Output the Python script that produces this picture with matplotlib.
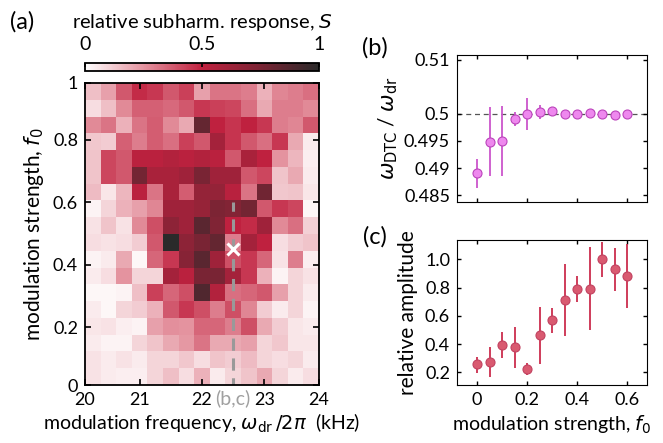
import numpy as np
import matplotlib
matplotlib.use('Agg')
import matplotlib.pyplot as plt
from matplotlib.colors import LinearSegmentedColormap

plt.rcParams['font.family'] = ['Lato', 'DejaVu Sans']
plt.rcParams['mathtext.fontset'] = 'dejavusans'
plt.rcParams['font.size'] = 13

# --- data -------------------------------------------------------------------
# heatmap grid: drive frequency (kHz) and modulation strength f0
freqs = [20.25, 20.5, 20.75, 21.0, 21.25, 21.5, 21.75, 22.0,
         22.25, 22.5, 22.75, 23.0, 23.25, 23.5, 23.75]
f0_rows = [0.955, 0.901, 0.848, 0.794, 0.740, 0.687, 0.633, 0.579, 0.526,
           0.472, 0.418, 0.364, 0.311, 0.257, 0.203, 0.150, 0.096, 0.042]
# relative subharmonic response S, rows from top (high f0) to bottom
S = [
    [0.15, 0.22, 0.38, 0.48, 0.45, 0.38, 0.43, 0.22, 0.32, 0.32, 0.30, 0.18, 0.28, 0.30, 0.33],
    [0.08, 0.15, 0.27, 0.36, 0.36, 0.34, 0.38, 0.45, 0.43, 0.42, 0.33, 0.20, 0.30, 0.30, 0.27],
    [0.27, 0.32, 0.18, 0.32, 0.37, 0.27, 0.20, 0.82, 0.50, 0.46, 0.50, 0.45, 0.30, 0.28, 0.38],
    [0.13, 0.12, 0.36, 0.30, 0.37, 0.33, 0.43, 0.38, 0.60, 0.46, 0.38, 0.33, 0.45, 0.20, 0.05],
    [0.14, 0.42, 0.38, 0.52, 0.52, 0.55, 0.52, 0.55, 0.52, 0.38, 0.58, 0.50, 0.25, 0.17, 0.04],
    [0.14, 0.42, 0.38, 0.77, 0.58, 0.58, 0.62, 0.75, 0.62, 0.62, 0.38, 0.42, 0.14, 0.20, 0.05],
    [0.16, 0.06, 0.17, 0.52, 0.32, 0.58, 0.37, 0.66, 0.66, 0.53, 0.32, 0.78, 0.13, 0.14, 0.06],
    [0.03, 0.10, 0.18, 0.22, 0.28, 0.62, 0.62, 0.65, 0.74, 0.72, 0.77, 0.38, 0.45, 0.42, 0.02],
    [0.07, 0.14, 0.07, 0.27, 0.40, 0.68, 0.62, 0.85, 0.73, 0.50, 0.48, 0.62, 0.27, 0.33, 0.11],
    [0.08, 0.07, 0.08, 0.12, 0.38, 1.00, 0.68, 0.75, 0.82, 0.30, 0.60, 0.50, 0.08, 0.12, 0.14],
    [0.03, 0.05, 0.20, 0.02, 0.35, 0.45, 0.70, 0.85, 0.62, 0.40, 0.45, 0.35, 0.07, 0.30, 0.04],
    [0.05, 0.08, 0.25, 0.10, 0.10, 0.60, 0.52, 0.75, 0.75, 0.60, 0.45, 0.18, 0.03, 0.10, 0.07],
    [0.02, 0.02, 0.03, 0.15, 0.43, 0.35, 0.40, 0.88, 0.55, 0.33, 0.35, 0.38, 0.22, 0.10, 0.05],
    [0.05, 0.02, 0.10, 0.12, 0.18, 0.38, 0.45, 0.40, 0.30, 0.40, 0.28, 0.12, 0.05, 0.10, 0.03],
    [0.06, 0.07, 0.04, 0.03, 0.22, 0.26, 0.25, 0.35, 0.35, 0.30, 0.40, 0.20, 0.12, 0.06, 0.05],
    [0.05, 0.03, 0.03, 0.10, 0.14, 0.20, 0.24, 0.32, 0.20, 0.20, 0.22, 0.10, 0.13, 0.06, 0.06],
    [0.07, 0.05, 0.07, 0.05, 0.10, 0.10, 0.13, 0.08, 0.14, 0.12, 0.16, 0.10, 0.08, 0.10, 0.05],
    [0.07, 0.05, 0.04, 0.04, 0.10, 0.15, 0.08, 0.18, 0.05, 0.10, 0.14, 0.20, 0.10, 0.05, 0.08],
]

# cut position for (b,c)
cut_freq = 22.5
cut_f0_max = 0.6
marker_f0 = 0.45

# panel (b): frequency ratio vs modulation strength
f0_b = [0, 0.05, 0.1, 0.15, 0.2, 0.25, 0.3, 0.35, 0.4, 0.45, 0.5, 0.55, 0.6]
ratio = [0.4890, 0.4949, 0.4950, 0.4990, 0.5000, 0.50035, 0.50045,
         0.5000, 0.5000, 0.50010, 0.50005, 0.49975, 0.50005]
ratio_err = [0.0026, 0.0064, 0.0064, 0.0013, 0.0030, 0.0013, 0.0009,
             0.0002, 0.0002, 0.0002, 0.0002, 0.0002, 0.0002]

# panel (c): relative amplitude vs modulation strength
amp = [0.256, 0.273, 0.395, 0.376, 0.224, 0.464, 0.569,
       0.713, 0.793, 0.793, 1.002, 0.929, 0.885]
amp_hi = [0.308, 0.379, 0.485, 0.520, 0.266, 0.661, 0.654,
          0.965, 0.882, 1.085, 1.125, 1.082, 1.108]
amp_lo = [0.195, 0.165, 0.301, 0.231, 0.179, 0.261, 0.478,
          0.459, 0.701, 0.501, 0.873, 0.776, 0.654]

# --- figure -------------------------------------------------------------------
cmap = LinearSegmentedColormap.from_list(
    'subh', ['#ffffff', '#e4939f', '#c0213f', '#7a2434', '#2a2a2a'])

fig = plt.figure(figsize=(6.63, 4.43), dpi=100)
W, H = 663, 443
LBL = 15

def box(l, t, r, b):
    return [l / W, 1 - b / H, (r - l) / W, (b - t) / H]

# (a) heatmap
ax = fig.add_axes(box(85, 83, 319, 385))
mesh = ax.pcolormesh(freqs, f0_rows, np.array(S), cmap=cmap, vmin=0, vmax=1,
                     shading='nearest')
ax.set_xlim(20.125, 23.875)
ax.set_ylim(0.015, 0.982)
ax.set_xticks([20.125, 21, 22, 23, 23.875])
ax.set_xticklabels(['20', '21', '22', '23', '24'])
ax.set_yticks([0.015, 0.2, 0.4, 0.6, 0.8, 0.982])
ax.set_yticklabels(['0', '0.2', '0.4', '0.6', '0.8', '1'])
ax.tick_params(direction='in', top=True, right=True, length=4, width=1.2, pad=5)
for s in ax.spines.values():
    s.set_linewidth(1.3)
ax.plot([cut_freq, cut_freq], [0, cut_f0_max], ls=(0, (4, 2.5)), color='#999999',
        lw=2.2)
ax.plot(cut_freq, marker_f0, marker='x', color='white', ms=9, mew=2.2)
ax.text(cut_freq, -0.028, '(b,c)', color='#a0a0a0', ha='center', va='center',
        fontsize=14, clip_on=False)
ax.set_xlabel(r'modulation frequency, $\omega_{\rm dr}\,/2\pi$  (kHz)',
              fontsize=14, labelpad=3)
ax.set_ylabel(r'modulation strength, $f_0$', fontsize=LBL, labelpad=5)

# colorbar on top
cax = fig.add_axes(box(85, 63, 319, 71))
cb = fig.colorbar(mesh, cax=cax, orientation='horizontal')
cb.set_ticks([0, 0.5, 1])
cb.set_ticklabels(['0', '0.5', '1'])
cax.xaxis.set_ticks_position('top')
cax.xaxis.set_label_position('top')
cax.tick_params(direction='in', length=3, width=1.2, pad=7, labelsize=14)
cb.outline.set_linewidth(1.3)
cax.set_xlabel(r'relative subharm. response, $S$', fontsize=14.5, labelpad=6)

fig.text(22 / W, 1 - 22 / H, '(a)', fontsize=17, ha='center', va='center')
fig.text(375 / W, 1 - 48 / H, '(b)', fontsize=17, ha='center', va='center')
fig.text(375 / W, 1 - 237 / H, '(c)', fontsize=17, ha='center', va='center')

# (b)
axb = fig.add_axes(box(457, 55, 647, 202))
axb.axhline(0.5, color='#555555', ls=(0, (4, 3)), lw=0.9, zorder=1)
axb.errorbar(f0_b, ratio, yerr=ratio_err, fmt='o', ms=6.5, mfc='#ee88ee',
             mec='#bb44bb', mew=0.8, ecolor='#cc55cc', elinewidth=1.3, zorder=3)
axb.set_xlim(-0.08, 0.68)
axb.set_ylim(0.48374, 0.51086)
axb.set_xticks([0, 0.2, 0.4, 0.6])
axb.set_xticklabels([])
axb.set_yticks([0.485, 0.49, 0.495, 0.5, 0.51])
axb.set_yticklabels(['0.485', '0.49', '0.495', '0.5', '0.51'])
axb.tick_params(direction='in', top=True, right=True, length=3, width=1, pad=5)
axb.set_ylabel(r'$\omega_{\rm DTC}$ / $\omega_{\rm dr}$', fontsize=LBL, labelpad=3)

# (c)
axc = fig.add_axes(box(457, 240, 647, 385))
amp_arr = np.array(amp)
yerr = [amp_arr - np.array(amp_lo), np.array(amp_hi) - amp_arr]
axc.errorbar(f0_b, amp, yerr=yerr, fmt='o', ms=6.5, mfc='#d95a70',
             mec='#c24260', mew=0.8, ecolor='#cc2d4d', elinewidth=1.3, zorder=3)
axc.set_xlim(-0.08, 0.68)
axc.set_ylim(0.11, 1.137)
axc.set_xticks([0, 0.2, 0.4, 0.6])
axc.set_xticklabels(['0', '0.2', '0.4', '0.6'])
axc.set_yticks([0.2, 0.4, 0.6, 0.8, 1.0])
axc.set_yticklabels(['0.2', '0.4', '0.6', '0.8', '1.0'])
axc.tick_params(direction='in', top=True, right=True, length=3, width=1, pad=5)
axc.set_ylabel('relative amplitude', fontsize=LBL, labelpad=5)
axc.set_xlabel(r'modulation strength, $f_0$', fontsize=14, labelpad=4)

fig.savefig('out.png', dpi=100)
